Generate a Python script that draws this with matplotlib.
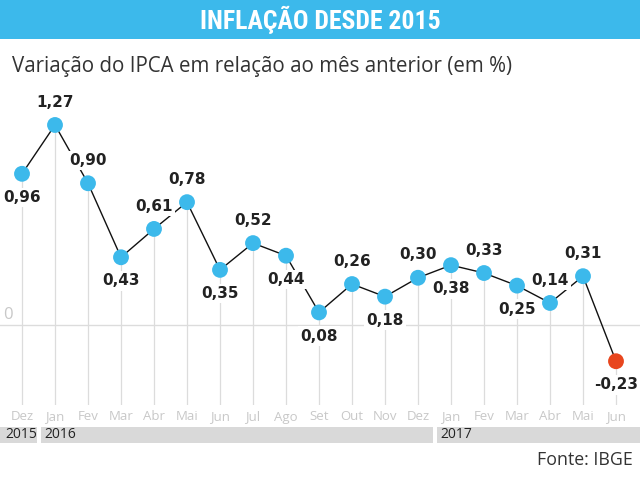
import numpy as np
import matplotlib
matplotlib.use('Agg')
import matplotlib.pyplot as plt
from matplotlib.patches import Rectangle
from matplotlib import font_manager

# IPCA monthly variation (%), Dez 2015 .. Jun 2017
meses = ['Dez', 'Jan', 'Fev', 'Mar', 'Abr', 'Mai', 'Jun', 'Jul', 'Ago', 'Set',
         'Out', 'Nov', 'Dez', 'Jan', 'Fev', 'Mar', 'Abr', 'Mai', 'Jun']
ipca = [0.96, 1.27, 0.90, 0.43, 0.61, 0.78, 0.35, 0.52, 0.44, 0.08,
        0.26, 0.18, 0.30, 0.38, 0.33, 0.25, 0.14, 0.31, -0.23]
# label above (a) or below (b) the point
lado = ['b', 'a', 'a', 'b', 'a', 'a', 'b', 'a', 'b', 'b',
        'a', 'b', 'a', 'b', 'a', 'b', 'a', 'a', 'b']
anos = ['2015', '2016', '2017']
ano_inicio = [0, 1, 13]

azul = '#3cb9eb'
vermelho = '#e8461e'
cinza = '#dcdcdc'

# pick a narrow bold face for the banner if one is installed
nomes = set(f.name for f in font_manager.fontManager.ttflist)
titulo_font = 'Roboto'
titulo_size = 15
for cand in ['Roboto Condensed', 'Liberation Sans Narrow', 'Open Sans Condensed', 'DejaVu Sans Condensed']:
    if cand in nomes:
        titulo_font = cand
        titulo_size = 18.5
        break

x = np.arange(len(ipca))
y = np.array(ipca)

fig = plt.figure(figsize=(6.4, 4.82), dpi=100)
ax = fig.add_axes([0, 1 - 405/482., 1, 320/482.])
xmin, xmax = -22/33., (640 - 22)/33.
ymin, ymax = -80/157.5, 240/157.5
ax.set_xlim(xmin, xmax)
ax.set_ylim(ymin, ymax)
ax.axis('off')

# banner
fig.patches.append(Rectangle((0, 1 - 39/482.), 1, 39/482., transform=fig.transFigure,
                             facecolor=azul, edgecolor='none'))
fig.text(0.5, 1 - 20/482., u'INFLAÇÃO DESDE 2015', ha='center', va='center', color='white',
         fontsize=titulo_size, fontweight='bold', family=[titulo_font, 'DejaVu Sans'])
fig.text(12/640., 1 - 72/482., u'Variação do IPCA em relação ao mês anterior (em %)',
         ha='left', va='baseline', color='#333333', fontsize=14.8, family='Open Sans')
fig.text(633/640., 1 - 460/482., 'Fonte: IBGE', ha='right', va='center',
         color='#333333', fontsize=12.8, family='Open Sans')

# grid
ax.axhline(0, color=cinza, lw=1, zorder=0)
ax.text(xmin + 3/33., 10/157.5, '0', color='#c8c8c8', fontsize=12,
        ha='left', va='center', family='Open Sans')
ax.vlines(x, ymin, y, color=cinza, lw=0.9, zorder=1)

# line and points
ax.plot(x, y, color='#111111', lw=1, zorder=2)
cores = [azul]*(len(x) - 1) + [vermelho]
ax.scatter(x, y, s=130, c=cores, zorder=5, edgecolors='none')

for xi, yi, l in zip(x, y, lado):
    dy = 16.5 if l == 'a' else -17
    ax.annotate(('%.2f' % yi).replace('.', ','), (xi, yi), xytext=(0, dy),
                textcoords='offset points', ha='center', va='center',
                fontsize=11, fontweight='bold', color='#222222', zorder=4,
                bbox=dict(boxstyle='square,pad=0.15', fc='white', ec='none'))

# month labels
for xi, m in zip(x, meses):
    ax.text(xi, -92/157.5, m, ha='center', va='center', color='#c8c8c8',
            fontsize=9.5, family='Open Sans', clip_on=False)

# year bars
gap = 2/33.
fins = ano_inicio[1:] + [None]
for a, ini, fim in zip(anos, ano_inicio, fins):
    left = xmin if ini == 0 else ini - 0.5 + gap
    right = xmax if fim is None else fim - 0.5 - gap
    ax.add_patch(Rectangle((left, -118/157.5), right - left, 16/157.5,
                           facecolor='#d9d9d9', edgecolor='none', clip_on=False))
    tx = left + (5 if ini == 0 else 4)/33.
    ax.text(tx, -110/157.5, a, ha='left', va='center', color='#222222',
            fontsize=10, family='Open Sans', clip_on=False)

fig.savefig('out.png', dpi=100)
